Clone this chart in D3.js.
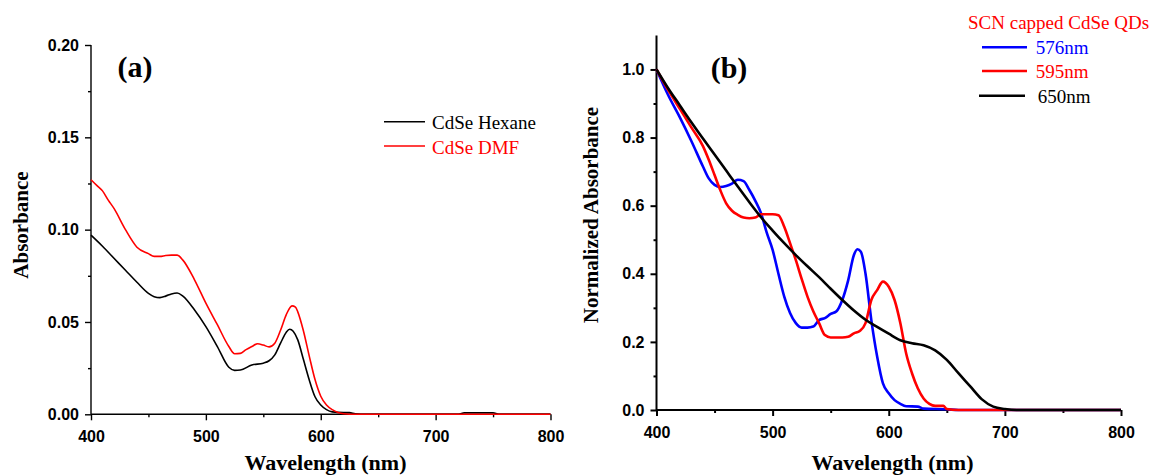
<!DOCTYPE html>
<html><head><meta charset="utf-8">
<script src="https://cdn.jsdelivr.net/npm/d3@7"></script>
<style>
html,body{margin:0;padding:0;background:#fff;}
svg{display:block;}
.tick text{font-family:"Liberation Sans",Arial,sans-serif;font-weight:bold;font-size:16px;fill:#000;}
</style></head>
<body>
<svg id="chart" width="1155" height="475"></svg>
<script>
// ---------- Panel (a) data ----------
const hexWl  = [400,410,420,430,440,450,455,460,465,470,475,480,490,500,510,520,525,530,540,550,555,560,565,570,573,576,580,585,590,595,600,605,610,620,625,630,640,700,720,725,750,755,800];
const hexAbs = [0.097,0.091,0.0845,0.078,0.0715,0.0655,0.0637,0.0632,0.064,0.0652,0.0657,0.064,0.0566,0.0475,0.0367,0.0255,0.0238,0.024,0.0267,0.0277,0.029,0.0322,0.0385,0.0445,0.0461,0.045,0.0403,0.0295,0.0186,0.0095,0.005,0.0025,0.0013,0.0009,0.0009,0.0003,0,0,0,0.0008,0.0008,0,0];
const dmfWl  = [400,405,410,415,420,430,440,450,455,460,465,470,475,480,490,500,510,520,525,530,535,540,545,550,555,560,565,570,575,578,580,585,590,595,600,605,610,615,620,630,800];
const dmfAbs = [0.127,0.124,0.121,0.116,0.1115,0.1,0.0905,0.087,0.0855,0.0855,0.086,0.0862,0.0862,0.0835,0.073,0.0602,0.0485,0.0367,0.0328,0.033,0.035,0.0367,0.0382,0.0375,0.0365,0.0385,0.0455,0.054,0.0587,0.058,0.0555,0.045,0.0315,0.0188,0.0098,0.005,0.0025,0.001,0.0003,0,0];
const aLegend = ["CdSe Hexane","CdSe DMF"];
const aYTicks = [0,0.05,0.10,0.15,0.20];
const xTicks  = [400,500,600,700,800];

// ---------- Panel (b) data ----------
const qd576Wl = [400,410,420,430,440,445,450,455,460,465,470,475,480,485,490,495,500,505,510,515,520,525,530,535,540,545,550,555,560,565,570,573,576,580,585,590,595,600,605,610,615,625,630,650,660,800];
const qd576   = [1.0,0.925,0.86,0.79,0.715,0.68,0.661,0.655,0.658,0.665,0.676,0.672,0.646,0.615,0.578,0.52,0.47,0.40,0.333,0.285,0.255,0.242,0.242,0.245,0.264,0.27,0.282,0.29,0.323,0.38,0.455,0.472,0.465,0.40,0.264,0.157,0.078,0.049,0.029,0.018,0.011,0.01,0.004,0.002,0,0];
const qd595Wl = [400,410,420,430,440,445,450,455,460,465,470,475,480,485,490,500,505,510,515,520,525,530,535,540,545,550,560,565,570,575,580,585,590,595,600,605,610,615,620,625,630,635,640,647,650,660,800];
const qd595   = [1.0,0.94,0.885,0.83,0.775,0.735,0.69,0.645,0.607,0.585,0.573,0.565,0.563,0.565,0.575,0.575,0.572,0.538,0.49,0.44,0.385,0.333,0.29,0.255,0.22,0.213,0.213,0.215,0.225,0.232,0.255,0.323,0.352,0.377,0.362,0.323,0.255,0.166,0.108,0.064,0.034,0.018,0.012,0.012,0.003,0,0];
const qd650Wl = [400,410,420,430,440,450,460,470,480,490,500,510,520,530,540,550,560,570,580,590,600,610,620,630,640,650,660,670,680,690,700,710,800];
const qd650   = [1.0,0.945,0.895,0.845,0.797,0.75,0.703,0.656,0.61,0.566,0.527,0.49,0.455,0.422,0.39,0.356,0.323,0.292,0.265,0.244,0.224,0.205,0.196,0.19,0.175,0.147,0.108,0.07,0.032,0.01,0.003,0,0];
const bLegendTitle = "SCN capped CdSe QDs";
const bLegend = ["576nm","595nm","650nm"];
const bYTicks = [0,0.2,0.4,0.6,0.8,1.0];

const svg = d3.select("#chart");
const serif = '"Liberation Serif","Times New Roman",serif';

function drawAxes(g, x, y, yTicks, yMinor, xMinor, fmt, sw, majLen, minLen) {
  const xa = g.append("g").attr("transform", `translate(0,${y.range()[0]})`)
    .call(d3.axisBottom(x).tickValues(xTicks).tickSize(majLen).tickPadding(10.5).tickFormat(d3.format("d")));
  const xm = g.append("g").attr("transform", `translate(0,${y.range()[0]})`)
    .call(d3.axisBottom(x).tickValues(xMinor).tickSize(minLen).tickFormat(""));
  const ya = g.append("g").attr("transform", `translate(${x.range()[0]},0)`)
    .call(d3.axisLeft(y).tickValues(yTicks).tickSize(majLen).tickPadding(6).tickFormat(d3.format(fmt)));
  const ym = g.append("g").attr("transform", `translate(${x.range()[0]},0)`)
    .call(d3.axisLeft(y).tickValues(yMinor).tickSize(minLen).tickFormat(""));
  [xa,xm,ya,ym].forEach(a=>{
    a.select(".domain").attr("stroke","#000").attr("stroke-width",sw);
    a.selectAll(".tick line").attr("stroke","#000").attr("stroke-width",sw);
  });
  xm.select(".domain").remove(); ym.select(".domain").remove();
  xa.select(".domain").attr("d", `M${x.range()[0]},0H${x.range()[1]}`);
  ya.select(".domain").attr("d", `M0,${y.range()[0]}V${y.range()[1]}`);
}

function line(g, x, y, wl, vals, color, sw) {
  const pts = wl.map((w,i)=>[w, vals[i]]);
  g.append("path").datum(pts)
    .attr("fill","none").attr("stroke",color).attr("stroke-width",sw)
    .attr("stroke-linejoin","round")
    .attr("d", d3.line().x(d=>x(d[0])).y(d=>y(d[1])).curve(d3.curveMonotoneX));
}

// ---------- Panel (a) ----------
{
  const g = svg.append("g");
  const x = d3.scaleLinear().domain([400,800]).range([91,550.5]);
  const y = d3.scaleLinear().domain([0,0.2]).range([414.3,45]);
  drawAxes(g, x, y, aYTicks, [0.025,0.075,0.125,0.175], [450,550,650,750], ".2f", 1.4, 6, 3);
  line(g, x, y, hexWl, hexAbs, "#000000", 1.6);
  line(g, x, y, dmfWl, dmfAbs, "#ff0000", 1.6);
  g.append("text").attr("x",135).attr("y",77).attr("text-anchor","middle")
    .style("font-family",serif).style("font-weight","bold").style("font-size","30px").text("(a)");
  const cols = ["#000","#ff0000"], ly = [121.7,146];
  aLegend.forEach((t,i)=>{
    g.append("line").attr("x1",384).attr("x2",425).attr("y1",ly[i]).attr("y2",ly[i])
      .attr("stroke",cols[i]).attr("stroke-width",1.5);
    g.append("text").attr("x",432).attr("y",ly[i]+7.5).style("font-family",serif)
      .style("font-size","19px").attr("fill",cols[i]).text(t);
  });
  g.append("text").attr("transform","translate(27.5,225) rotate(-90)").attr("text-anchor","middle")
    .style("font-family",serif).style("font-weight","bold").style("font-size","21px").text("Absorbance");
  g.append("text").attr("x",325.5).attr("y",470).attr("text-anchor","middle")
    .style("font-family",serif).style("font-weight","bold").style("font-size","22px").text("Wavelength (nm)");
}

// ---------- Panel (b) ----------
{
  const g = svg.append("g");
  const x = d3.scaleLinear().domain([400,800]).range([656.5,1121]);
  const y = d3.scaleLinear().domain([0,1.1]).range([410,35.4]);
  drawAxes(g, x, y, bYTicks, [0.1,0.3,0.5,0.7,0.9], [450,550,650,750], ".1f", 2, 6, 3);
  line(g, x, y, qd576Wl, qd576, "#0000ff", 2.6);
  line(g, x, y, qd595Wl, qd595, "#ff0000", 2.6);
  line(g, x, y, qd650Wl, qd650, "#000000", 2.6);
  g.append("text").attr("x",729).attr("y",78).attr("text-anchor","middle")
    .style("font-family",serif).style("font-weight","bold").style("font-size","30px").text("(b)");
  g.append("text").attr("x",968).attr("y",29).style("font-family",serif)
    .style("font-size","19px").attr("fill","#ff0000").text(bLegendTitle);
  const cols = ["#0000ff","#ff0000","#000000"], ly = [47.3,71,95.7], lx1=[982,982,979], lx2=[1027,1027,1025], tx=[1035.7,1035.7,1037.7];
  bLegend.forEach((t,i)=>{
    g.append("line").attr("x1",lx1[i]).attr("x2",lx2[i]).attr("y1",ly[i]).attr("y2",ly[i])
      .attr("stroke",cols[i]).attr("stroke-width",2.6);
    g.append("text").attr("x",tx[i]).attr("y",ly[i]+7).style("font-family",serif)
      .style("font-size","19px").attr("fill",cols[i]).text(t);
  });
  g.append("text").attr("transform","translate(598,215) rotate(-90)").attr("text-anchor","middle")
    .style("font-family",serif).style("font-weight","bold").style("font-size","21px").text("Normalized Absorbance");
  g.append("text").attr("x",892.5).attr("y",470).attr("text-anchor","middle")
    .style("font-family",serif).style("font-weight","bold").style("font-size","22px").text("Wavelength (nm)");
}
</script>
</body></html>
